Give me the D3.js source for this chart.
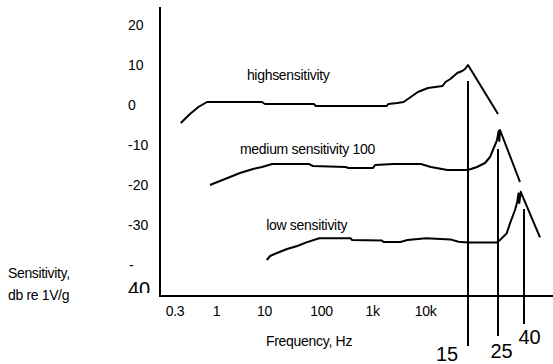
<!DOCTYPE html>
<html>
  <head>
    <meta charset="utf-8">
    <title>Accelerometer sensitivity</title>
    <script src="https://d3js.org/d3.v7.min.js"></script>
    <style>
      body { margin: 0; background: #fff; }
      svg { display: block; }
      text { font-family: "Liberation Sans", Arial, sans-serif; fill: #000; }
      .curve { fill: none; stroke: #000; stroke-width: 2; stroke-linejoin: round; }
      .axis-line, .res-line { stroke: #000; stroke-width: 2; }
    </style>
  </head>
  <body>
    <div id="container"></div>
    <script>
      // frequency (Hz) vs sensitivity (dB re 1V/g)
      const highSens = [[0.36,-4.5],[0.47,-2.25],[0.6,-0.5],[0.77,0.75],[9,0.75],[10.4,0.25],[75,0.25],[81,-0.25],
        [1900,-0.25],[2030,0.25],[3000,0.5],[3950,0.75],[5380,2],[7335,3.25],[10280,4.25],[11800,4.75],[12130,5.75],
        [12700,6.5],[13550,8],[14200,8.5],[14590,9],[15000,10],[25000,-2.25]];
      const mediumSens = [[0.84,-20],[1.21,-19],[1.96,-18],[3.16,-17],[5.9,-16],[9.1,-15.5],[13.9,-14.75],[61,-14.75],
        [72,-15.25],[303,-15.5],[345,-15.75],[1045,-15.75],[1142,-15],[2535,-14.75],[8380,-14.75],[10570,-15.5],
        [12360,-16.25],[15000,-16.25],[17490,-15.5],[20040,-14.5],[21820,-13],[23760,-10],[24580,-8.75],[25300,-6.5],
        [25600,-9],[25920,-6.25],[37210,-19.25]];
      const lowSens = [[11.2,-38.75],[12.8,-37.75],[16.9,-37],[25.4,-36],[38.4,-35.25],[54,-34.4],[93,-33.3],[378,-33.3],
        [407,-33.75],[1536,-33.9],[1650,-34.25],[3455,-34.25],[4650,-33.75],[10090,-33.3],[12700,-33.6],[13720,-34.2],
        [15000,-34.4],[24450,-34.4],[25920,-33.75],[29250,-32.1],[31060,-29.6],[33990,-26.25],[35430,-24.2],
        [36220,-22.1],[36740,-24.5],[37690,-21.7],[54480,-33.1]];
      const seriesNames = ["highsensitivity", "medium sensitivity 100", "low sensitivity"];
      const seriesLabelAt = [[4.4, 6.25], [3.16, -12.25], [10.9, -31.25]];

      // resonant frequencies (kHz) and the dB span of their marker lines
      const resonances = [15, 25, 40];
      const resonanceSpan = [[6, -60.25], [-11, -57.75], [-26, -54.75]];

      const xTickValues = [0.3, 1, 10, 100, 1000, 10000];
      const xTickLabels = ["0.3", "1", "10", "100", "1k", "10k"];
      const yTickValues = [20, 10, 0, -10, -20, -30];

      const width = 553, height = 364;
      const frame = { left: 160, top: 7, bottom: 296, right: 553 };

      // the drawing is not on one log scale, so piece it together between labelled points
      const x = d3.scaleLog()
        .domain([0.3, 1, 10, 100, 1000, 10000, 15000, 25000, 40000, 60000])
        .range([174.5, 216, 264, 321, 372, 425, 468, 498, 524, 545]);
      const y = d3.scaleLinear().domain([-40, 20]).range([265, 25]);

      const svg = d3.select("#container").append("svg")
        .attr("width", width)
        .attr("height", height);

      svg.append("defs").append("clipPath").attr("id", "cut40")
        .append("rect").attr("x", 100).attr("y", 270).attr("width", 60).attr("height", 23);

      // axes
      svg.append("line").attr("class", "axis-line")
        .attr("x1", frame.left).attr("x2", frame.left)
        .attr("y1", frame.top).attr("y2", frame.bottom + 1);
      svg.append("line").attr("class", "axis-line")
        .attr("x1", frame.left - 1).attr("x2", frame.right)
        .attr("y1", frame.bottom).attr("y2", frame.bottom);

      const xAxis = svg.append("g")
        .attr("transform", "translate(0," + frame.bottom + ")")
        .call(d3.axisBottom(x)
          .tickValues(xTickValues)
          .tickFormat(function(d, i) { return xTickLabels[i]; })
          .tickSize(0)
          .tickPadding(10));
      xAxis.select(".domain").remove();
      xAxis.selectAll("text")
        .attr("font-family", null)
        .style("font-size", "14px")
        .style("letter-spacing", "-0.3px");

      svg.selectAll(".ytick")
        .data(yTickValues)
        .enter().append("text")
          .attr("class", "ytick")
          .attr("x", 128)
          .attr("y", function(d) { return y(d); })
          .attr("dy", "0.35em")
          .style("font-size", "14px")
          .text(function(d) { return d; });
      // the -40 label is broken over two lines in the original
      svg.append("text")
        .attr("x", 129).attr("y", y(-40)).attr("dy", "0.35em")
        .style("font-size", "14px")
        .text("-");
      svg.append("text")
        .attr("x", 128).attr("y", 296)
        .attr("clip-path", "url(#cut40)")
        .style("font-size", "20px")
        .text("40");

      svg.append("text")
        .attr("x", 266).attr("y", 346)
        .style("font-size", "14px")
        .style("letter-spacing", "-0.3px")
        .text("Frequency, Hz");
      const yTitle = svg.append("text")
        .style("font-size", "14px")
        .style("letter-spacing", "-0.35px");
      yTitle.append("tspan").attr("x", 8).attr("y", 278).text("Sensitivity,");
      yTitle.append("tspan").attr("x", 8).attr("y", 300).text("db re 1V/g");

      // resonance markers
      svg.selectAll(".res-line")
        .data(resonances)
        .enter().append("line")
          .attr("class", "res-line")
          .attr("x1", function(d) { return x(d * 1000); })
          .attr("x2", function(d) { return x(d * 1000); })
          .attr("y1", function(d, i) { return y(resonanceSpan[i][0]); })
          .attr("y2", function(d, i) { return y(resonanceSpan[i][1]); });
      const resLabelOffset = [[-21, 15], [3.5, 22], [5.5, 20]];
      svg.selectAll(".res-label")
        .data(resonances)
        .enter().append("text")
          .attr("class", "res-label")
          .attr("text-anchor", "middle")
          .attr("x", function(d, i) { return x(d * 1000) + resLabelOffset[i][0]; })
          .attr("y", function(d, i) { return y(resonanceSpan[i][1]) + resLabelOffset[i][1]; })
          .style("font-size", "20px")
          .text(function(d) { return d; });

      // curves
      const line = d3.line()
        .x(function(d) { return x(d[0]); })
        .y(function(d) { return y(d[1]); });
      svg.selectAll(".curve")
        .data([highSens, mediumSens, lowSens])
        .enter().append("path")
          .attr("class", "curve")
          .attr("d", line);

      svg.selectAll(".series-label")
        .data(seriesNames)
        .enter().append("text")
          .attr("class", "series-label")
          .attr("x", function(d, i) { return x(seriesLabelAt[i][0]); })
          .attr("y", function(d, i) { return y(seriesLabelAt[i][1]); })
          .style("font-size", "14px")
          .style("letter-spacing", "-0.3px")
          .text(function(d) { return d; });
    </script>
  </body>
</html>
